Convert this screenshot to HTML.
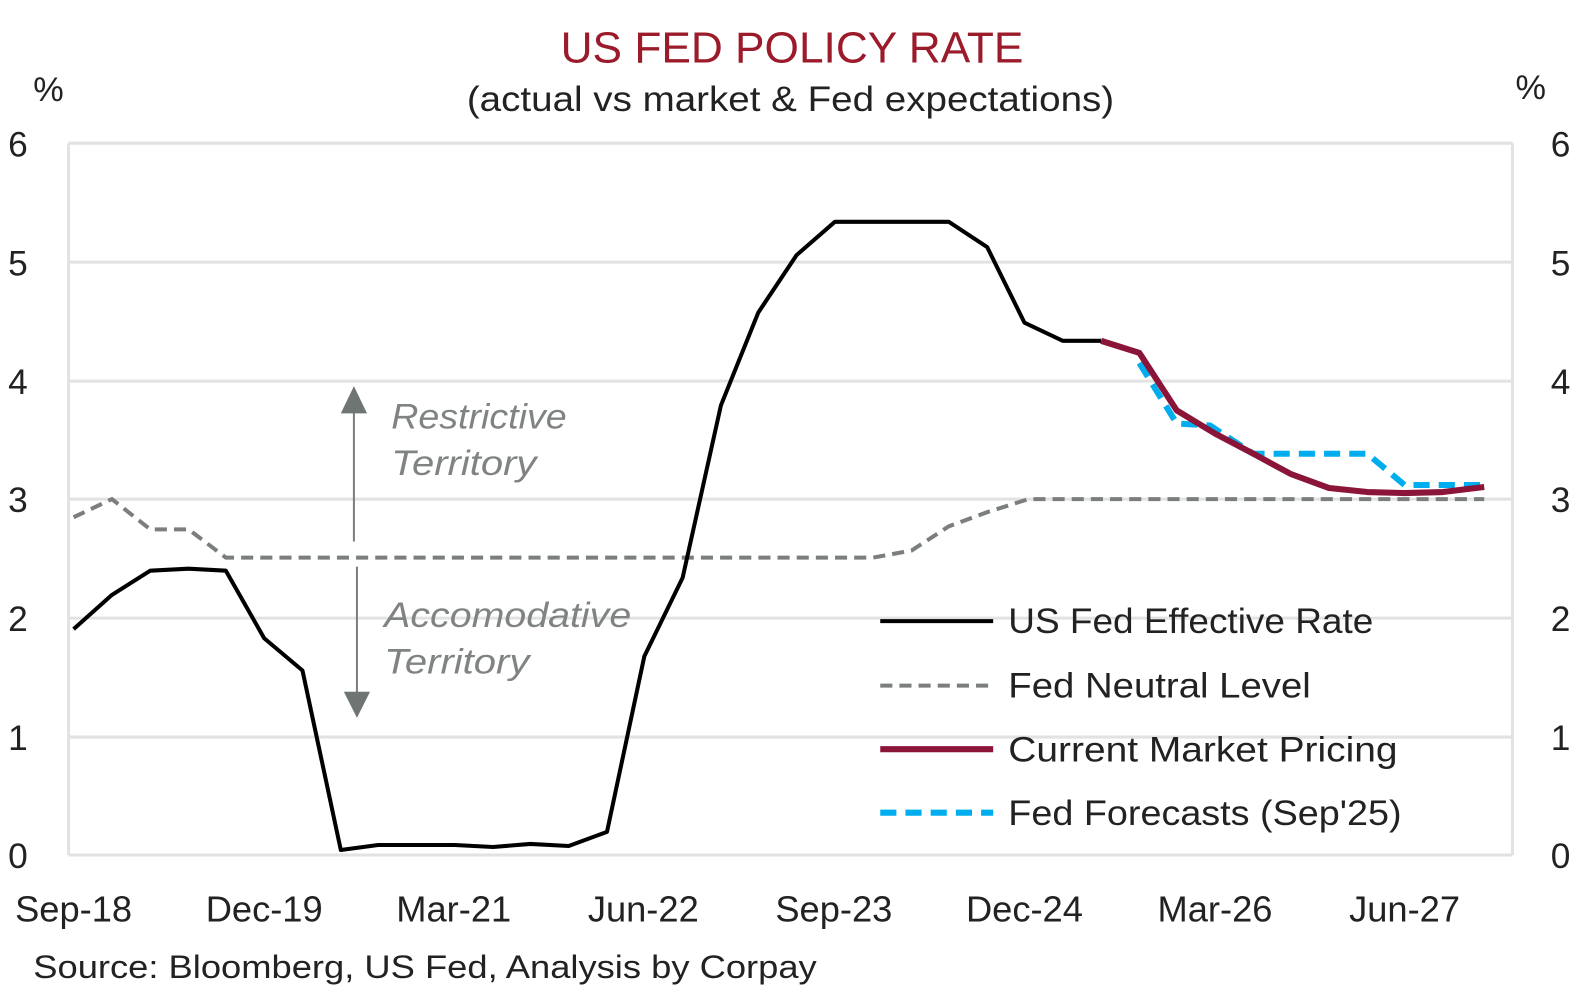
<!DOCTYPE html><html><head><style>body{margin:0;background:#fff}svg text{font-family:"Liberation Sans",sans-serif}</style></head><body>
<svg width="1581" height="1000" xmlns="http://www.w3.org/2000/svg">
<g transform="scale(1.0083)">
<text x="556" y="62" textLength="459" lengthAdjust="spacingAndGlyphs" font-size="43" fill="#9b1b2a">US FED POLICY RATE</text>
<text x="463" y="110" textLength="642" lengthAdjust="spacingAndGlyphs" font-size="35" fill="#222">(actual vs market &amp; Fed expectations)</text>
<text x="33" y="100" font-size="34" fill="#222">%</text>
<text x="1503" y="98" font-size="34" fill="#222">%</text>
<g stroke="#e2e2e2" stroke-width="3">
<line x1="68" y1="142" x2="1500" y2="142"/><line x1="68" y1="260" x2="1500" y2="260"/><line x1="68" y1="378" x2="1500" y2="378"/><line x1="68" y1="495" x2="1500" y2="495"/><line x1="68" y1="613" x2="1500" y2="613"/><line x1="68" y1="731" x2="1500" y2="731"/><line x1="68" y1="848" x2="1500" y2="848"/>
<line x1="68" y1="142" x2="68" y2="848"/><line x1="1500" y1="142" x2="1500" y2="848"/></g>
<g font-size="35" fill="#222"><text x="8" y="155">6</text><text x="8" y="273">5</text><text x="8" y="391">4</text><text x="8" y="508">3</text><text x="8" y="626">2</text><text x="8" y="744">1</text><text x="8" y="861">0</text>
<text x="1538" y="155">6</text><text x="1538" y="273">5</text><text x="1538" y="391">4</text><text x="1538" y="508">3</text><text x="1538" y="626">2</text><text x="1538" y="744">1</text><text x="1538" y="861">0</text></g>
<g font-size="36" fill="#222" text-anchor="middle"><text x="73" y="914">Sep-18</text><text x="262" y="914">Dec-19</text><text x="450" y="914">Mar-21</text><text x="638" y="914">Jun-22</text><text x="827" y="914">Sep-23</text><text x="1016" y="914">Dec-24</text><text x="1205" y="914">Mar-26</text><text x="1393" y="914">Jun-27</text></g>
<text x="33" y="970" textLength="777" lengthAdjust="spacingAndGlyphs" font-size="32" fill="#222">Source: Bloomberg, US Fed, Analysis by Corpay</text>
<polyline fill="none" stroke="#7a7f7d" stroke-width="4" stroke-dasharray="12,7" points="73,513 111,495 149,525 187,525 224,553 262,553 866,553 904,546 941,522 979,508 1020,495 1472,495"/>
<polyline fill="none" stroke="#000" stroke-width="4" stroke-linejoin="round" points="73,624 111,590 149,566 187,564 224,566 262,633 300,665 338,843 375,838 413,838 451,838 489,840 526,837 564,839 602,825 639,651 677,573 715,402 752,310 790,253 828,220 941,220 979,245 1016,320 1054,338 1092,338"/>
<polyline fill="none" stroke="#00aeef" stroke-width="6" stroke-dasharray="16,9" points="1130,360 1167,420 1200,422 1243,450 1356,450 1393,481 1472,481"/>
<polyline fill="none" stroke="#8b1538" stroke-width="6" stroke-linejoin="round" points="1092,338 1130,350 1167,407 1205,430 1243,450 1280,470 1318,484 1356,488 1393,489 1431,488 1472,483"/>
<line x1="351" y1="405" x2="351" y2="537" stroke="#7a7f7d" stroke-width="2"/><polygon points="338,410 364,410 351,383" fill="#6e7572"/>
<line x1="354" y1="562" x2="354" y2="690" stroke="#7a7f7d" stroke-width="2"/><polygon points="341,686 367,686 354,712" fill="#6e7572"/>
<g font-size="35" font-style="italic" fill="#7f8482"><text x="388" y="425" textLength="174" lengthAdjust="spacingAndGlyphs">Restrictive</text><text x="388" y="471" textLength="144" lengthAdjust="spacingAndGlyphs">Territory</text><text x="381" y="622" textLength="245" lengthAdjust="spacingAndGlyphs">Accomodative</text><text x="381" y="668" textLength="144" lengthAdjust="spacingAndGlyphs">Territory</text></g>
<line x1="873" y1="616" x2="985" y2="616" stroke="#000" stroke-width="4"/>
<line x1="873" y1="680" x2="985" y2="680" stroke="#7a7f7d" stroke-width="4" stroke-dasharray="12,7"/>
<line x1="873" y1="743" x2="985" y2="743" stroke="#8b1538" stroke-width="6"/>
<line x1="873" y1="806" x2="985" y2="806" stroke="#00aeef" stroke-width="6" stroke-dasharray="16,9"/>
<g font-size="35" fill="#222"><text x="1000" y="628" textLength="362" lengthAdjust="spacingAndGlyphs">US Fed Effective Rate</text><text x="1000" y="692" textLength="300" lengthAdjust="spacingAndGlyphs">Fed Neutral Level</text><text x="1000" y="755" textLength="386" lengthAdjust="spacingAndGlyphs">Current Market Pricing</text><text x="1000" y="818" textLength="390" lengthAdjust="spacingAndGlyphs">Fed Forecasts (Sep'25)</text></g>
</g>
</svg></body></html>
